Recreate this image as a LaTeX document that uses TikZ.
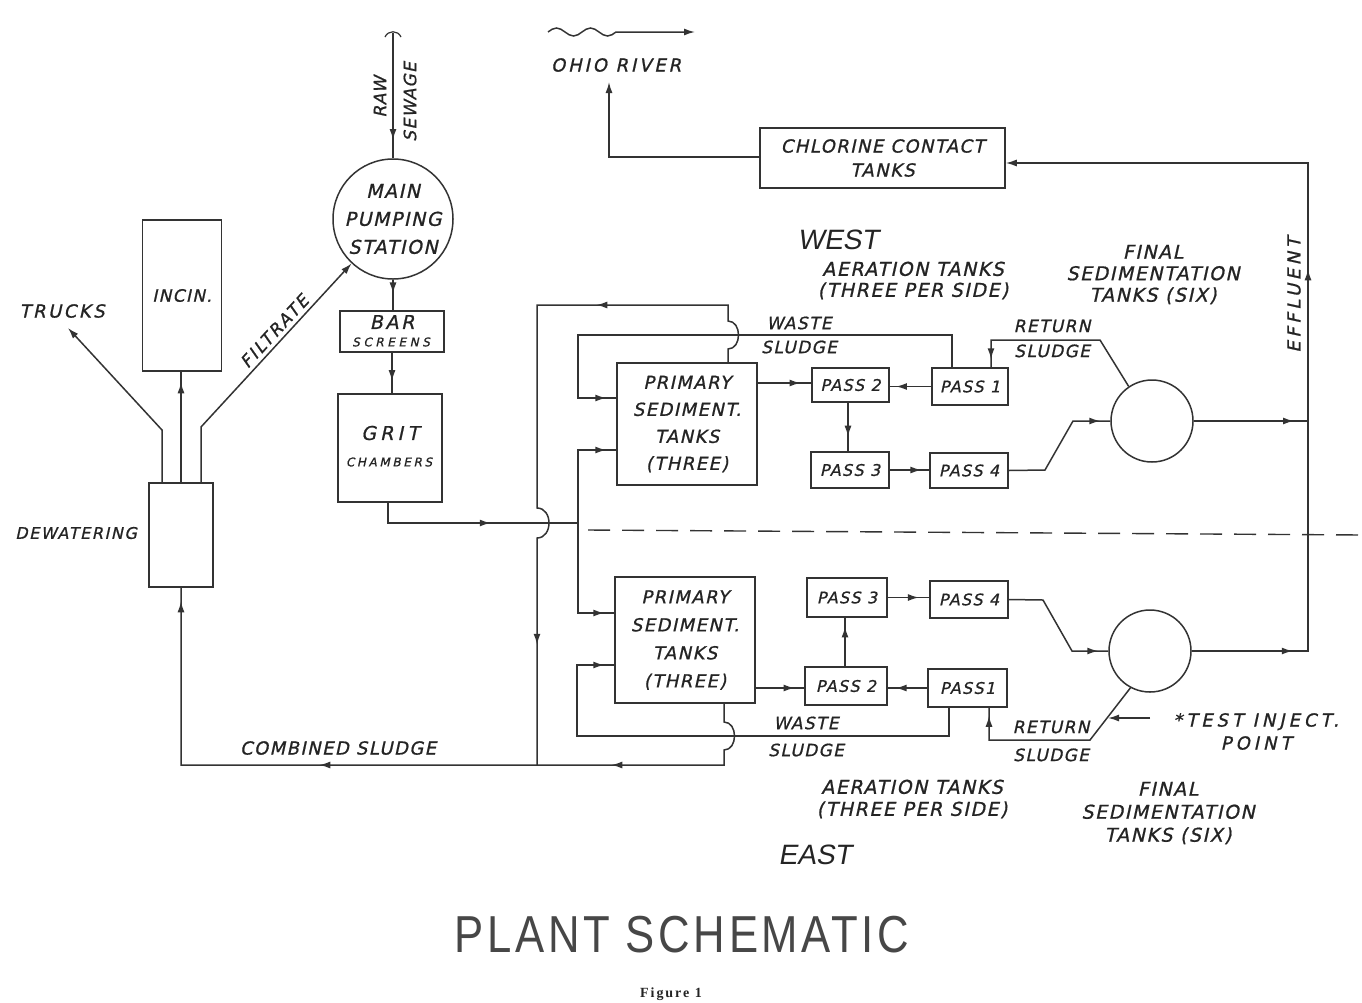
\documentclass[tikz,border=0pt]{standalone}
\usepackage{fontspec}
\usetikzlibrary{arrows.meta,decorations.markings}
\newfontfamily\handf[LetterSpace=8,FakeSlant=0.22,FakeBold=0.9]{DejaVu Sans}
\newfontfamily\dirf[FakeSlant=0.18]{Liberation Sans}
\newfontfamily\titlef[FakeStretch=0.84,LetterSpace=7]{Liberation Sans}
\newfontfamily\figf[LetterSpace=14]{Liberation Serif}
\definecolor{lc}{gray}{0.2}
\definecolor{tc}{gray}{0.14}
\newcommand{\hfs}[2]{\handf\fontsize{#1pt}{#2pt}\selectfont}
\begin{document}
\begin{tikzpicture}[x=1pt,y=-1pt,>={Latex[length=11pt,width=7pt]},
  pipe/.style={draw=lc,line width=1.5pt},
  box/.style={draw=lc,line width=1.5pt,inner sep=0pt,align=center,text=tc},
  lab/.style={inner sep=0pt,align=center,text=tc,font=\hfs{18}{22}},
  arr/.style={postaction={decorate,decoration={markings,mark=at position #1 with {\arrow{>}}}}}]
\fill[white] (0,0) rectangle (1362,1002);
\useasboundingbox (0,0) rectangle (1362,1002);

% ---------- nodes ----------
\node[circle,draw=lc,line width=1.5pt,minimum size=120pt,inner sep=0pt,align=center,text=tc,font=\hfs{19}{28}] (mps) at (393,219) {MAIN\\PUMPING\\STATION};
\node[box,minimum width=104pt,minimum height=41pt] (bar) at (392,331.5) {};
\node[lab,font=\hfs{19}{19}\addfontfeature{LetterSpace=14}] (barT) at (392,322) {BAR};
\node[lab,font=\hfs{12}{12}\addfontfeature{LetterSpace=30}] (barS) at (391,342) {SCREENS};
\node[box,minimum width=104pt,minimum height=108pt] (grit) at (390,448) {};
\node[lab,font=\hfs{19}{19}\addfontfeature{LetterSpace=22}] (gritT) at (390,433) {GRIT};
\node[lab,font=\hfs{12}{12}\addfontfeature{LetterSpace=22}] (gritS) at (389,462) {CHAMBERS};
\node[box,minimum width=79pt,minimum height=151pt,font=\hfs{17}{17}] (incin) at (182,295.5) {INCIN.};
\node[box,minimum width=64pt,minimum height=104pt] (dew) at (181,535) {};
\node[box,minimum width=245pt,minimum height=60pt,font=\hfs{18}{24}] (chl) at (882.5,158) {CHLORINE CONTACT\\TANKS};
\node[box,minimum width=140pt,minimum height=122pt,font=\hfs{18}{27}] (primW) at (687,424) {PRIMARY\\SEDIMENT.\\TANKS\\(THREE)};
\node[box,minimum width=140pt,minimum height=126pt,font=\hfs{18}{28}] (primE) at (685,640) {PRIMARY\\SEDIMENT.\\TANKS\\(THREE)};

\node[box,minimum width=77pt,minimum height=34pt,font=\hfs{16}{16}] (pW2) at (850.5,385) {PASS 2};
\node[box,minimum width=76pt,minimum height=37pt,font=\hfs{16}{16}] (pW1) at (970,386.5) {PASS 1};
\node[box,minimum width=78pt,minimum height=36pt,font=\hfs{16}{16}] (pW3) at (850,470) {PASS 3};
\node[box,minimum width=78pt,minimum height=35pt,font=\hfs{16}{16}] (pW4) at (969,470.5) {PASS 4};
\node[box,minimum width=80pt,minimum height=39pt,font=\hfs{16}{16}] (pE3) at (847,597.5) {PASS 3};
\node[box,minimum width=78pt,minimum height=37pt,font=\hfs{16}{16}] (pE4) at (969,599.5) {PASS 4};
\node[box,minimum width=82pt,minimum height=38pt,font=\hfs{16}{16}] (pE2) at (846,686) {PASS 2};
\node[box,minimum width=79pt,minimum height=38pt,font=\hfs{16}{16}] (pE1) at (967.5,688) {PASS1};

\node[circle,draw=lc,line width=1.5pt,minimum size=82pt,inner sep=0pt] (fW) at (1152,421) {};
\node[circle,draw=lc,line width=1.5pt,minimum size=82pt,inner sep=0pt] (fE) at (1150,651) {};

% ---------- labels ----------
\node[lab,font=\hfs{18}{18}\addfontfeature{LetterSpace=14}] (trucks) at (62,311) {TRUCKS};
\node[lab,font=\hfs{16}{16}\addfontfeature{LetterSpace=10}] (dewl) at (76,533) {DEWATERING};
\node[lab,font=\hfs{17}{17},rotate=90] (raw) at (380,97) {RAW};
\node[lab,font=\hfs{17}{17},rotate=90] (sew) at (410,102) {SEWAGE};
\node[lab,font=\hfs{18}{18}\addfontfeature{LetterSpace=16}] (ohioT) at (616,65) {OHIO RIVER};
\node[lab,font=\dirf\fontsize{28pt}{28pt}\selectfont] (west) at (838,240) {WEST};
\node[lab,font=\dirf\fontsize{28pt}{28pt}\selectfont] (east) at (815,855) {EAST};
\node[lab,font=\hfs{19}{21}] (aerW) at (913,280.5) {AERATION TANKS\\(THREE PER SIDE)};
\node[lab,font=\hfs{19}{22}] (aerE) at (912,799) {AERATION TANKS\\(THREE PER SIDE)};
\node[lab,font=\hfs{19}{21.5}] (finW) at (1153,274.5) {FINAL\\SEDIMENTATION\\TANKS (SIX)};
\node[lab,font=\hfs{19}{23}] (finE) at (1168,813) {FINAL\\SEDIMENTATION\\TANKS (SIX)};
\node[lab,font=\hfs{17}{24}] (wasteW) at (799,335) {WASTE\\SLUDGE};
\node[lab,font=\hfs{17}{25}] (retW) at (1052,338.5) {RETURN\\SLUDGE};
\node[lab,font=\hfs{17}{27}] (wasteE) at (806,736.5) {WASTE\\SLUDGE};
\node[lab,font=\hfs{17}{28}] (retE) at (1051,741) {RETURN\\SLUDGE};
\node[lab,font=\hfs{18}{18}\addfontfeature{LetterSpace=20},rotate=90] (effl) at (1294,295) {EFFLUENT};
\node[lab,font=\hfs{18}{23}\addfontfeature{LetterSpace=22}] (test) at (1256,731.5) {*TEST INJECT.\\POINT};
\node[lab,font=\hfs{18}{18}] (comb) at (338,748) {COMBINED SLUDGE};
\node[lab,font=\titlef\fontsize{52pt}{52pt}\selectfont,text=black!72] (title) at (682,935) {PLANT SCHEMATIC};
\node[lab,font=\figf\bfseries\fontsize{14pt}{14pt}\selectfont] (fig) at (671,994) {Figure 1};

% ---------- coordinates ----------
\coordinate (rawtop) at (393,33);
\coordinate (split) at (578,523);
\coordinate (j1) at (537,765);
\coordinate (effW) at (1308,421);
\coordinate (ohio) at (609,82);
\coordinate (rv1) at (548,32);
\coordinate (rv2) at (695,32);
\coordinate (trk) at (68,328);
\coordinate (tiS) at (1150,718);
\coordinate (tiE) at (1108,718);
\coordinate (dl) at (588,530);
\coordinate (dr) at (1362,535);

% ---------- connectors ----------
\draw[pipe,arr=107pt] (rawtop) -- (mps.north);
\draw[pipe,line width=1.2pt] (385,37) .. controls (388,30) and (398,30) .. (401,37);
\draw[pipe,arr=0.45] (mps.south) -- (mps.south |- bar.north);
\draw[pipe,arr=0.7] (bar.south) -- (bar.south |- grit.north);
\draw[pipe,arr=123pt] (grit.south -| 388,0) |- (split);
\draw[pipe,arr=-10pt] (split) |- (primW.west |- 0,450);
\draw[pipe,arr=-10pt] (split) |- (primE.west |- 0,613);

% waste sludge
\draw[pipe,arr=-10pt] (pW1.north -| 952,0) |- (578,335) |- (primW.west |- 0,398);
\draw[pipe,arr=-10pt] (pE1.south -| 949,0) |- (577,736) |- (primE.west |- 0,665);

% primary sludge to dewatering
\draw[pipe,arr=200pt,arr=612pt] (primW.north -| 728,0) -- (728,349)
  .. controls (742,349) and (742,321) .. (728,321) -- (728,305) -- (537,305) -- (537,508)
  .. controls (553,508) and (553,538) .. (537,538) -- (j1);
\draw[pipe,arr=185pt,arr=477pt,arr=779pt] (primE.south -| 724,0) -- (724,722)
  .. controls (738,722) and (738,750) .. (724,750) -- (724,765) -- (dew.south |- 0,765) -- (dew.south);

% west aeration
\draw[pipe,arr=0.8] (primW.east |- 0,383) -- (pW2.west |- 0,383);
\draw[pipe,arr=0.85] (pW1.west) -- (pW1.west -| pW2.east);
\draw[pipe,arr=0.7] (pW2.south -| 848,0) -- (pW3.north -| 848,0);
\draw[pipe,arr=0.8] (pW3.east) -- (pW3.east -| pW4.west);
\draw[pipe,arr=-10pt] (pW4.east) -- (1045,470) -- (1073,421) -- (fW.west);
\draw[pipe,arr=-8pt] (fW.124) -- (1100,340) -- (991,340) -- (pW1.north -| 991,0);
\draw[pipe,arr=-14pt] (fW.east) -- (effW);

% east aeration
\draw[pipe,arr=0.8] (primE.east |- 0,688) -- (pE2.west |- 0,688);
\draw[pipe,arr=0.8] (pE1.west) -- (pE1.west -| pE2.east);
\draw[pipe,arr=0.82] (pE2.north -| 845,0) -- (pE3.south -| 845,0);
\draw[pipe,arr=0.75] (pE3.east) -- (pE3.east -| pE4.west);
\draw[pipe,arr=-10pt] (pE4.east) -- (1043,600) -- (1072,651) -- (fE.west);
\draw[pipe,arr=-8pt] (fE.242) -- (1090,740) -- (989,740) -- (pE1.south -| 989,0);
\draw[pipe,->] (tiS) -- (tiE);

% effluent
\draw[pipe,arr=101pt,arr=498pt,->] (fE.east) -- (1308,651) -- (1308,163) -- (chl.east |- 0,163);
\draw[pipe,->] (chl.west |- 0,157) -| (ohio);
\draw[pipe,->] (rv1) sin (556.5,28) cos (565,32) sin (573.5,36) cos (582,32)
  sin (590.5,28) cos (599,32) sin (607.5,36) cos (616,32) -- (rv2);

% dewatering outputs
\draw[pipe,->] (dew.north -| 162,0) -- (162,430) -- (trk);
\draw[pipe,arr=100pt] (dew.north) -- (dew.north |- incin.south);
\draw[pipe,->] (dew.north -| 201,0) -- (201,427) --
  node[lab,sloped,above=4pt,pos=0.54,font=\hfs{17}{17}\addfontfeature{LetterSpace=14}] (filt) {FILTRATE} (mps.227);

% east / west divider
\draw[lc,line width=1.4pt,dash pattern=on 22pt off 12pt] (dl) -- (dr);
\end{tikzpicture}
\end{document}
